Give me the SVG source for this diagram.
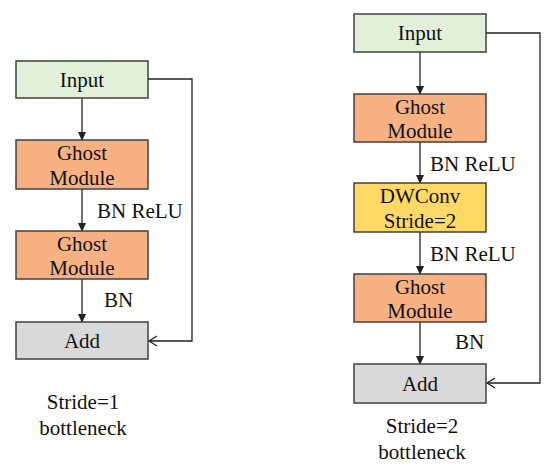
<svg xmlns="http://www.w3.org/2000/svg" width="550" height="468" viewBox="0 0 550 468">
<style>
.box{stroke:#404040;stroke-width:1.5}
.g{fill:#e2f0d9}.o{fill:#f8b183}.y{fill:#ffd966}.a{fill:#d9d9d9}
text{font-family:"Liberation Serif","Times New Roman",serif;font-size:21px;fill:#111;text-anchor:middle}
.lbl{text-anchor:start}
.ln{stroke:#222;stroke-width:1.3;fill:none}
</style>
<defs>
<marker id="fa" markerWidth="10" markerHeight="10" refX="8" refY="5" orient="auto" markerUnits="userSpaceOnUse"><path d="M0,1 L9,5 L0,9 z" fill="#222"/></marker>
<marker id="oa" markerWidth="12" markerHeight="12" refX="9" refY="6" orient="auto" markerUnits="userSpaceOnUse"><path d="M1,1 L9,6 L1,11" fill="none" stroke="#222" stroke-width="1.3"/></marker>
</defs>
<rect width="550" height="468" fill="#fff"/>
<g id="connectors">
<line class="ln" x1="82" y1="98" x2="82" y2="140" marker-end="url(#fa)"/>
<line class="ln" x1="82" y1="189" x2="82" y2="231" marker-end="url(#fa)"/>
<line class="ln" x1="82" y1="279" x2="82" y2="322" marker-end="url(#fa)"/>
<path class="ln" d="M148,79 H192 V341 H149" marker-end="url(#oa)"/>
<line class="ln" x1="420" y1="52" x2="420" y2="94" marker-end="url(#fa)"/>
<line class="ln" x1="420" y1="142" x2="420" y2="183" marker-end="url(#fa)"/>
<line class="ln" x1="420" y1="232" x2="420" y2="274" marker-end="url(#fa)"/>
<line class="ln" x1="420" y1="322" x2="420" y2="364" marker-end="url(#fa)"/>
<path class="ln" d="M486,33 H540 V383 H487" marker-end="url(#oa)"/>
<text class="lbl" x="97" y="218">BN ReLU</text>
<text class="lbl" x="104" y="307">BN</text>
<text class="lbl" x="430" y="171">BN ReLU</text>
<text class="lbl" x="430" y="261">BN ReLU</text>
<text class="lbl" x="455" y="349">BN</text>
</g>
<g id="l-input"><rect class="box g" x="16" y="61" width="132" height="37"/><text x="82" y="87">Input</text></g>
<g id="l-ghost1"><rect class="box o" x="16" y="140" width="132" height="49"/><text x="82" y="160">Ghost</text><text x="82" y="185">Module</text></g>
<g id="l-ghost2"><rect class="box o" x="16" y="231" width="132" height="48"/><text x="82" y="251">Ghost</text><text x="82" y="275">Module</text></g>
<g id="l-add"><rect class="box a" x="16" y="322" width="132" height="37"/><text x="82" y="348">Add</text></g>
<g id="l-caption"><text x="83" y="409">Stride=1</text><text x="83" y="435">bottleneck</text></g>
<g id="r-input"><rect class="box g" x="354" y="14" width="132" height="38"/><text x="420" y="40">Input</text></g>
<g id="r-ghost1"><rect class="box o" x="354" y="94" width="132" height="48"/><text x="420" y="114">Ghost</text><text x="420" y="138">Module</text></g>
<g id="r-dwconv"><rect class="box y" x="354" y="183" width="132" height="49"/><text x="420" y="203">DWConv</text><text x="420" y="228">Stride=2</text></g>
<g id="r-ghost2"><rect class="box o" x="354" y="274" width="132" height="48"/><text x="420" y="294">Ghost</text><text x="420" y="318">Module</text></g>
<g id="r-add"><rect class="box a" x="354" y="364" width="132" height="39"/><text x="420" y="391">Add</text></g>
<g id="r-caption"><text x="422" y="433">Stride=2</text><text x="422" y="459">bottleneck</text></g>
</svg>
